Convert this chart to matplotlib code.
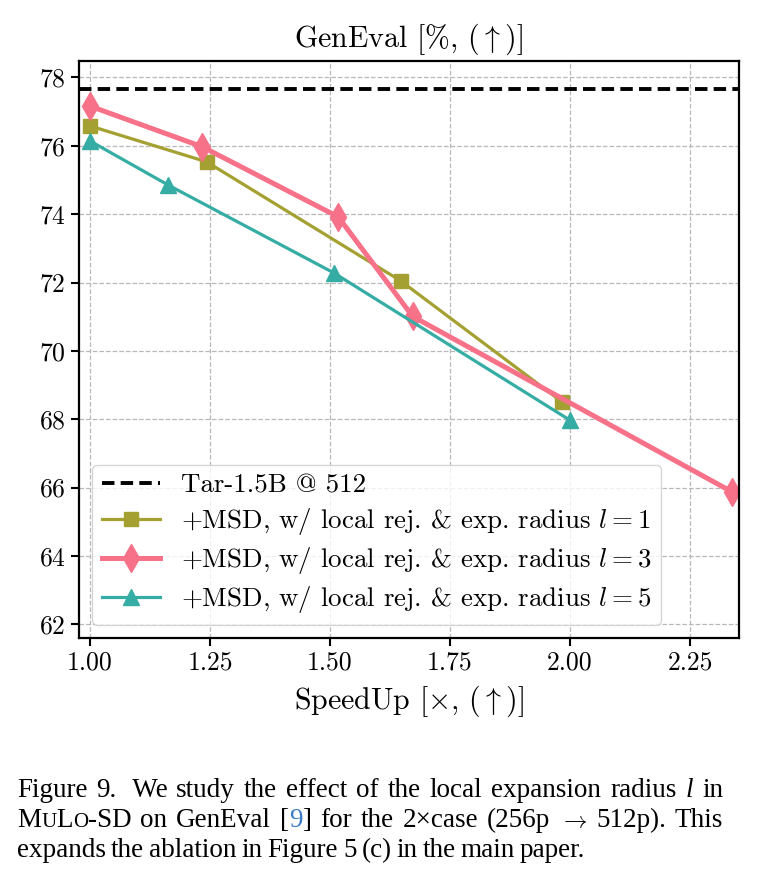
import matplotlib
matplotlib.use("Agg")
import matplotlib.pyplot as plt
import numpy as np

plt.rcParams['font.family'] = 'serif'
plt.rcParams['font.serif'] = ['cmr10', 'DejaVu Serif']
plt.rcParams['mathtext.fontset'] = 'cm'
plt.rcParams['axes.formatter.use_mathtext'] = True
plt.rcParams['axes.unicode_minus'] = False

# data
baseline = 77.65
x_l1 = [1.00, 1.243, 1.647, 1.983]
y_l1 = [76.58, 75.53, 72.05, 68.51]
x_l3 = [1.00, 1.234, 1.517, 1.672, 2.338]
y_l3 = [77.16, 75.97, 73.92, 71.01, 65.87]
x_l5 = [1.00, 1.163, 1.508, 2.00]
y_l5 = [76.14, 74.85, 72.28, 67.97]

labels = ['Tar-1.5B @ 512',
          '+MSD, w/ local rej. & exp. radius $l=1$',
          '+MSD, w/ local rej. & exp. radius $l=3$',
          '+MSD, w/ local rej. & exp. radius $l=5$']
colors = ['#a4a031', '#f77189', '#36ada4']

W, H = 758, 885
fig = plt.figure(figsize=(W / 100, H / 100), dpi=100)
ax = fig.add_axes([79 / W, 1 - 638 / H, 660 / W, 577 / H])

ax.axhline(baseline, color='k', ls='--', lw=2.8, dashes=(3.2, 1.6), label=labels[0])
ax.plot(x_l1, y_l1, color=colors[0], marker='s', ms=10.5, lw=2.3, label=labels[1])
ax.plot(x_l3, y_l3, color=colors[1], marker='d', ms=14, lw=3.6, label=labels[2])
ax.plot(x_l5, y_l5, color=colors[2], marker='^', ms=11, lw=2.3, label=labels[3])

ax.set_xlim(0.977, 2.352)
ax.set_ylim(61.6, 78.48)
ax.set_xticks([1.00, 1.25, 1.50, 1.75, 2.00, 2.25])
ax.set_xticklabels(['1.00', '1.25', '1.50', '1.75', '2.00', '2.25'])
ax.set_yticks([62, 64, 66, 68, 70, 72, 74, 76, 78])
ax.tick_params(labelsize=18.5, length=6, width=1.5)
for s in ax.spines.values():
    s.set_linewidth(1.6)
ax.grid(True, ls='--', color='#b8b8b8', lw=0.9)
ax.set_axisbelow(True)

ax.set_title(r'GenEval [%, ($\uparrow$)]', fontsize=21.5, pad=10)
ax.set_xlabel(r'SpeedUp [$\times$, ($\uparrow$)]', fontsize=21.5, labelpad=6)

ax.legend(loc='lower left', fontsize=19.4, handlelength=2.15, framealpha=0.8,
          borderpad=0.35, labelspacing=0.3, handletextpad=0.8,
          bbox_to_anchor=(0.0, 0.0), borderaxespad=0.5)

# caption, justified like the paper
cap = dict(family='Liberation Serif', fontsize=19.5, color='k')
rend = fig.canvas.get_renderer()


def place_line(y_px, words, justify=True, left=17, right=723):
    placed = []
    for w in words:
        segs = []
        for txt, kw in w:
            t = fig.text(0, 1 - y_px / H, txt, va='baseline', ha='left', **{**cap, **kw})
            segs.append((t, t.get_window_extent(rend).width))
        placed.append(segs)
    widths = [sum(s[1] for s in segs) for segs in placed]
    if justify:
        gap = (right - left - sum(widths)) / (len(words) - 1)
    else:
        gap = 5.0
    x = left
    for segs, ww in zip(placed, widths):
        xx = x
        for t, sw in segs:
            t.set_x(xx / W)
            xx += sw
        x += ww + gap


def plain(s):
    return [[(w, {})] for w in s.split()]


line1 = [[('Figure', {})], [('9.', {})], [(' We', {})]] + plain('study the effect of the local expansion radius') \
    + [[('l', {'style': 'italic'})], [('in', {})]]
sc = 15
line2 = [[('M', {}), ('U', {'fontsize': sc}), ('L', {}), ('O', {'fontsize': sc}), ('-SD', {})]] \
    + plain('on GenEval') + [[('[', {}), ('9', {'color': '#3b7dc4'}), (']', {})]] \
    + plain('for the') + [[('2\u00d7case', {})]] + [[('(256p', {})], [(r'$\rightarrow$', {'fontsize': 17})]] \
    + plain('512p). This')
line3 = plain('expands the ablation in Figure 5 (c) in the main paper.')

place_line(797, line1)
place_line(827, line2)
place_line(857, line3, justify=False)

fig.savefig('out.png', dpi=100)
